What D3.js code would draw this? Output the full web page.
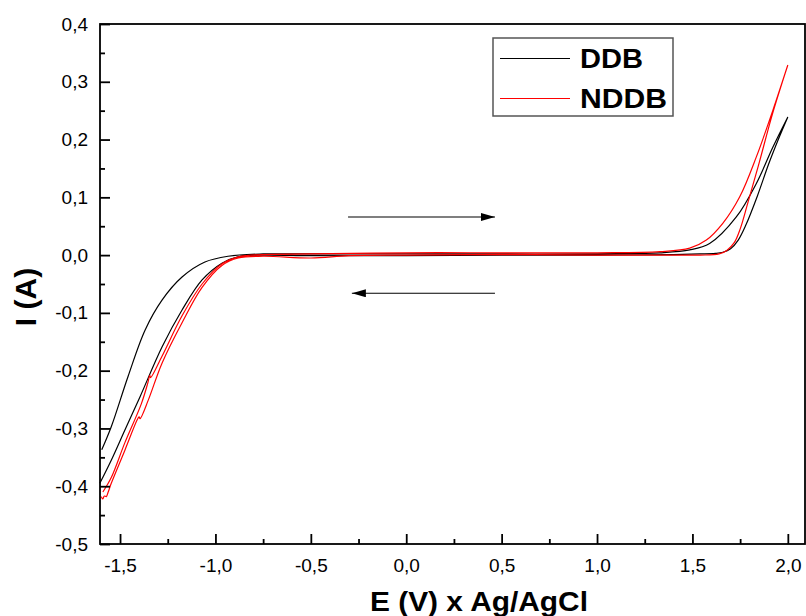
<!DOCTYPE html>
<html lang="en">
<head>
<meta charset="UTF-8">
<title>CV DDB / NDDB</title>
<script src="https://d3js.org/d3.v7.min.js"></script>
<style>
    body { margin: 0; background: #fff; }
    svg { display: block; font-family: "Liberation Sans", Arial, sans-serif; }
</style>
</head>
<body>
<div id="chart"></div>
<script>
// series names
const seriesNames = ["DDB", "NDDB"];
const seriesColors = ["#000000", "#ff0000"];

// [E (V), I (A)], scan goes out on one branch and comes back on the other
const ddbForward = [
    [-1.606, -0.395], [-1.546, -0.355], [-1.475, -0.303], [-1.395, -0.245], [-1.28, -0.159],
    [-1.175, -0.095], [-1.07, -0.043], [-0.966, -0.014], [-0.882, -0.003], [-0.75, 0.0],
    [-0.5, -0.001], [0.0, -0.001], [0.5, 0.0], [1.0, 0.0], [1.4, 0.001], [1.54, 0.002],
    [1.62, 0.003], [1.66, 0.005], [1.70, 0.011], [1.74, 0.026], [1.78, 0.052], [1.84, 0.102],
    [1.90, 0.158], [1.95, 0.200], [2.0, 0.239]
];
const ddbReverse = [
    [2.0, 0.239], [1.922, 0.187], [1.835, 0.124], [1.73, 0.066], [1.59, 0.02], [1.486, 0.009],
    [1.33, 0.004], [1.224, 0.003], [1.0, 0.002], [0.5, 0.002], [0.0, 0.002], [-0.5, 0.002],
    [-0.75, 0.002], [-0.934, -0.002], [-1.055, -0.012], [-1.175, -0.038], [-1.28, -0.078],
    [-1.369, -0.13], [-1.458, -0.21], [-1.546, -0.297], [-1.596, -0.337]
];
const nddbForward = [
    [-1.598, -0.418], [-1.591, -0.422], [-1.582, -0.417], [-1.572, -0.418], [-1.563, -0.411],
    [-1.546, -0.395], [-1.475, -0.338], [-1.41, -0.285], [-1.40, -0.280], [-1.395, -0.283],
    [-1.352, -0.251], [-1.28, -0.187], [-1.175, -0.117], [-1.07, -0.056], [-0.966, -0.018],
    [-0.88, -0.005], [-0.75, -0.002], [-0.5, -0.005], [-0.3, -0.001], [0.0, 0.0], [0.5, 0.001],
    [1.0, 0.0], [1.4, 0.0], [1.54, 0.0], [1.64, 0.002], [1.68, 0.008], [1.72, 0.022],
    [1.75, 0.045], [1.79, 0.09], [1.85, 0.16], [1.92, 0.245], [2.0, 0.329]
];
const nddbReverse = [
    [2.0, 0.329], [1.922, 0.251], [1.835, 0.17], [1.748, 0.101], [1.659, 0.055], [1.573, 0.026],
    [1.486, 0.012], [1.33, 0.006], [1.0, 0.004], [0.5, 0.004], [0.0, 0.004], [-0.5, 0.002],
    [-0.75, 0.001], [-0.88, -0.003], [-0.966, -0.015], [-1.07, -0.05], [-1.175, -0.105],
    [-1.28, -0.175], [-1.34, -0.212], [-1.344, -0.208], [-1.355, -0.222], [-1.388, -0.257],
    [-1.475, -0.325], [-1.546, -0.385], [-1.59, -0.41]
];
const seriesData = [ddbForward.concat(ddbReverse), nddbForward.concat(nddbReverse)];

// axis ticks
const xTicks = [-1.5, -1.0, -0.5, 0.0, 0.5, 1.0, 1.5, 2.0];
const xMinorTicks = [-1.25, -0.75, -0.25, 0.25, 0.75, 1.25, 1.75];
const yTicks = [-0.5, -0.4, -0.3, -0.2, -0.1, 0.0, 0.1, 0.2, 0.3, 0.4];
const yMinorTicks = [-0.45, -0.35, -0.25, -0.15, -0.05, 0.05, 0.15, 0.25, 0.35];

const width = 806, height = 616;
const plotLeft = 100, plotRight = 805, plotTop = 24, plotBottom = 544;

const svg = d3.select("#chart").append("svg")
    .attr("width", width)
    .attr("height", height);

const xScale = d3.scaleLinear().domain([-1.605, 2.09]).range([plotLeft, plotRight]);
const yScale = d3.scaleLinear().domain([-0.5, 0.4]).range([plotBottom, plotTop]);

const fmt = d => d.toFixed(1).replace(".", ",");

// curves
const line = d3.line()
    .x(d => xScale(d[0]))
    .y(d => yScale(d[1]))
    .curve(d3.curveCatmullRom.alpha(0.5));

const plot = svg.append("g");
seriesData.forEach((data, i) => {
    plot.append("path")
        .attr("d", line(data))
        .attr("fill", "none")
        .attr("stroke", seriesColors[i])
        .attr("stroke-width", 1.2);
});

// frame
svg.append("rect")
    .attr("x", plotLeft)
    .attr("y", plotTop)
    .attr("width", plotRight - plotLeft)
    .attr("height", plotBottom - plotTop)
    .attr("fill", "none")
    .attr("stroke", "#000")
    .attr("stroke-width", 1.8);

// axes, ticks pointing inward
const xAxis = d3.axisBottom(xScale).tickValues(xTicks).tickSize(-10).tickPadding(15).tickFormat(fmt);
const xMinor = d3.axisBottom(xScale).tickValues(xMinorTicks).tickSize(-5).tickFormat("");
const yAxis = d3.axisLeft(yScale).tickValues(yTicks).tickSize(-10).tickPadding(12).tickFormat(fmt);
const yMinor = d3.axisLeft(yScale).tickValues(yMinorTicks).tickSize(-5).tickFormat("");

[[xAxis, "translate(0," + plotBottom + ")"], [xMinor, "translate(0," + plotBottom + ")"],
 [yAxis, "translate(" + plotLeft + ",0)"], [yMinor, "translate(" + plotLeft + ",0)"]].forEach(([ax, tr]) => {
    const g = svg.append("g").attr("transform", tr).call(ax);
    g.select(".domain").remove();
    g.selectAll(".tick line").attr("stroke", "#000").attr("stroke-width", 1.8);
    g.selectAll(".tick text")
        .attr("fill", "#000")
        .style("font-size", "19px")
        .style("font-family", "\"Liberation Sans\", Arial, sans-serif");
});

// axis titles
svg.append("text")
    .attr("x", 479)
    .attr("y", 611)
    .attr("text-anchor", "middle")
    .attr("textLength", 218)
    .attr("lengthAdjust", "spacingAndGlyphs")
    .style("font-weight", "bold")
    .style("font-size", "28px")
    .text("E (V) x Ag/AgCl");

svg.append("text")
    .attr("transform", "translate(36,297) rotate(-90)")
    .attr("text-anchor", "middle")
    .style("font-weight", "bold")
    .style("font-size", "30px")
    .text("I (A)");

// scan direction arrows
svg.append("defs").append("marker")
    .attr("id", "head")
    .attr("viewBox", "0 0 14 8")
    .attr("refX", 14)
    .attr("refY", 4)
    .attr("markerWidth", 14)
    .attr("markerHeight", 8)
    .attr("markerUnits", "userSpaceOnUse")
    .attr("orient", "auto")
    .append("path")
    .attr("d", "M0,0 L14,4 L0,8 Z")
    .attr("fill", "#000");

const arrows = [[[-0.305, 0.066], [0.465, 0.066]], [[0.465, -0.066], [-0.285, -0.066]]];
arrows.forEach(a => {
    svg.append("line")
        .attr("x1", xScale(a[0][0])).attr("y1", yScale(a[0][1]))
        .attr("x2", xScale(a[1][0])).attr("y2", yScale(a[1][1]))
        .attr("stroke", "#000")
        .attr("stroke-width", 1.2)
        .attr("marker-end", "url(#head)");
});

// legend
const legendWidths = [63, 87];
const legend = svg.append("g");
legend.append("rect")
    .attr("x", 493).attr("y", 38)
    .attr("width", 180).attr("height", 78)
    .attr("fill", "#fff")
    .attr("stroke", "#555")
    .attr("stroke-width", 1.5);
seriesNames.forEach((name, i) => {
    const y = 58.5 + i * 40;
    legend.append("line")
        .attr("x1", 500).attr("x2", 570)
        .attr("y1", y).attr("y2", y)
        .attr("stroke", seriesColors[i])
        .attr("stroke-width", 1.2);
    legend.append("text")
        .attr("x", 580)
        .attr("y", y + 9.5)
        .attr("textLength", legendWidths[i])
        .attr("lengthAdjust", "spacingAndGlyphs")
        .style("font-weight", "bold")
        .style("font-size", "27px")
        .text(name);
});
</script>
</body>
</html>
